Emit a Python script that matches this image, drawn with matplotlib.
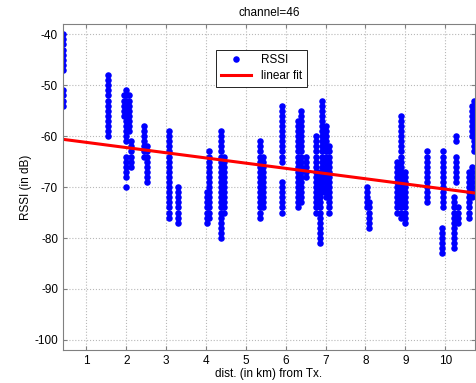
import numpy as np
import matplotlib.pyplot as plt

plt.rcParams['font.family'] = ['Liberation Sans', 'DejaVu Sans']
plt.rcParams['axes.unicode_minus'] = False

# measurement columns: distance (km) and RSSI values (dB) at that distance
col_x = [0.42, 1.55, 1.95, 2.00, 2.07, 2.12, 2.45, 2.52, 3.08, 3.30,
         4.02, 4.08, 4.37, 4.46, 5.35, 5.42, 5.91, 6.30, 6.38, 6.50,
         6.75, 6.85, 6.92, 7.00, 7.08, 8.03, 8.10, 8.80, 8.90, 8.98,
         9.55, 9.95, 9.92, 10.28, 10.22, 10.32, 10.60, 10.67, 10.68, 10.73]
col_rssi = [
    [-40, -41, -42, -43, -44, -45, -46, -47, -51, -52, -53, -54],
    [-48, -49, -50, -51, -52, -53, -54, -55, -56, -57, -58, -59, -60],
    [-52, -53, -54, -55, -56],
    [-51, -52, -53, -54, -55, -56, -57, -58, -59, -60, -61, -64, -65, -66, -67, -68, -70],
    [-52, -53, -54, -55, -56, -57, -58, -59],
    [-61, -62, -63, -64, -65, -66],
    [-58, -59, -60, -61, -62, -63, -64],
    [-62, -63, -64, -65, -66, -67, -68, -69],
    [-59, -60, -61, -62, -63, -64, -65, -66, -67, -68, -69, -70, -71, -72, -73, -74, -75, -76],
    [-70, -71, -72, -73, -74, -75, -76, -77],
    [-71, -72, -73, -74, -75, -76, -77],
    [-63, -64, -65, -66, -67, -68, -69, -70, -71, -72, -73, -74, -75, -76],
    [-59, -60, -61, -62, -63, -64, -65, -66, -67, -68, -69, -70, -71, -72, -73, -74, -75, -76, -77, -78, -79, -80],
    [-64, -65, -66, -67, -68, -69, -70, -71, -72, -73, -74, -75],
    [-61, -62, -63, -64, -65, -66, -67, -68, -69, -70, -71, -72, -73, -74, -75, -76],
    [-64, -65, -66, -67, -68, -69, -70, -71, -72, -73, -74],
    [-54, -55, -56, -57, -58, -59, -60, -61, -62, -63, -64, -65, -69, -70, -71, -72, -73, -74, -75],
    [-57, -58, -59, -60, -61, -62, -63, -64, -65, -66, -67, -68, -69, -70, -71, -72, -73, -74],
    [-55, -56, -57, -58, -59, -60, -61, -62, -63, -64, -65, -66, -67, -68, -69, -70, -71, -72, -73],
    [-64, -65, -66, -67, -68],
    [-60, -61, -62, -63, -64, -65, -66, -67, -68, -69, -70, -71, -72, -73, -74, -75],
    [-67, -68, -69, -70, -71, -72, -73, -74, -75, -76, -77, -78, -79, -80, -81],
    [-53, -54, -55, -56, -57, -58, -59, -60, -61, -62, -63, -64, -65, -66, -67, -68, -69, -70, -71],
    [-58, -59, -60, -61, -62, -63, -64, -65, -66, -67, -68, -69, -70, -71, -72],
    [-62, -63, -64, -65, -66, -67, -68, -69, -70, -71, -72, -73, -74, -75],
    [-70, -71, -72, -73, -74],
    [-73, -74, -75, -76, -77, -78],
    [-65, -66, -67, -68, -69, -70, -71, -72, -73, -74, -75],
    [-56, -57, -58, -59, -60, -61, -62, -63, -64, -65, -66, -67, -68, -69, -70, -71, -72, -73, -74, -75, -76],
    [-67, -68, -69, -70, -71, -72, -73, -74, -75, -76, -77],
    [-63, -64, -65, -66, -67, -68, -69, -70, -71, -72, -73],
    [-63, -64, -65, -66, -67, -68, -69, -70, -71, -72, -73, -74],
    [-78, -79, -80, -81, -82, -83],
    [-60, -61, -64, -65, -66, -67, -68, -69],
    [-72, -73, -74, -75, -76, -77, -78, -79, -80, -81, -82],
    [-74, -75, -76, -77],
    [-67, -68, -69, -70, -71, -72, -73, -74, -75, -76],
    [-66, -67, -68, -69, -70, -71, -72],
    [-54, -55, -56, -57, -58, -59, -60],
    [-53, -54, -55, -56, -57, -58, -59, -60, -61, -62, -63],
]

# linear fit coefficients (dB per km, dB)
fit_slope = -1.02
fit_intercept = -60.2

xs = []
ys = []
for x, vals in zip(col_x, col_rssi):
    xs += [x] * len(vals)
    ys += vals

fig = plt.figure(figsize=(4.77, 3.83), dpi=100)
ax = fig.add_axes([0.132, 0.086, 0.864, 0.851])

ax.plot(xs, ys, 'o', color='#0000ff', markersize=4.7, markeredgewidth=0, label="RSSI")
xl = np.array([0.41, 10.75])
ax.plot(xl, fit_slope * xl + fit_intercept, '-', color='#ff0000', linewidth=2.2, label="linear fit")

ax.set_xlim(0.41, 10.75)
ax.set_ylim(-102, -38)
ax.set_xticks(range(1, 11))
ax.set_yticks(range(-100, -39, 10))
ax.grid(True, linestyle=':', color='#b8b8b8', linewidth=0.8)
ax.tick_params(direction='in', labelsize=8.5, colors='#808080', labelcolor='black',
               length=3, top=True, right=True)
for s in ax.spines.values():
    s.set_color('#808080')

ax.set_title("channel=46", fontsize=8.5)
ax.set_xlabel("dist. (in km) from Tx.", fontsize=8.5, labelpad=1)
ax.set_ylabel("RSSI (in dB)", fontsize=8.5, labelpad=2)
leg = ax.legend(loc='upper left', bbox_to_anchor=(0.357, 0.94), fontsize=8.5,
                fancybox=False, edgecolor='black', framealpha=1,
                handlelength=2.6, borderpad=0.4, labelspacing=0.3)
leg.get_frame().set_linewidth(0.6)

plt.savefig("out.png", dpi=100)
